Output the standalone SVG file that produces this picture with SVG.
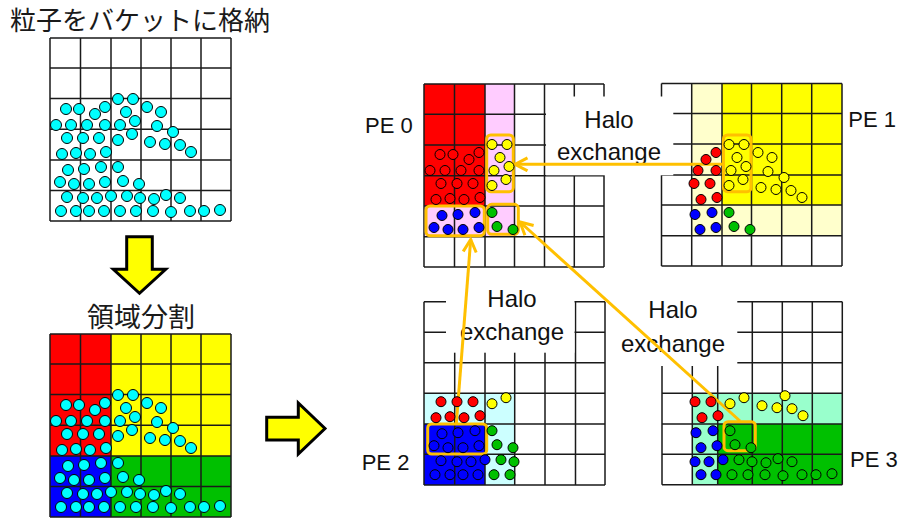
<svg xmlns="http://www.w3.org/2000/svg" xmlns:xlink="http://www.w3.org/1999/xlink" width="899" height="522" viewBox="0 0 899 522">
<style>
.grid{fill:none;stroke:#1a1a1a;stroke-width:1.5}
.p circle{stroke:#000;stroke-width:1}
.c{fill:#00ffff}.r{fill:#ff0000}.y{fill:#ffff00}.b{fill:#0000ff}.g{fill:#00c000}
.pk{fill:#ffccff}.ly{fill:#ffffcc}.lc{fill:#ccffff}.mt{fill:#99ffcc}
.jp{font-family:"Noto Sans CJK JP","Noto Sans CJK SC",sans-serif;fill:#1a1a1a}
.lb{font-family:"Liberation Sans",Arial,sans-serif;font-size:24px;fill:#111}
.pe{font-family:"Liberation Sans",Arial,sans-serif;font-size:22px;fill:#111}
.hb{fill:#fff}
.ob{fill:none;stroke:#ffc000;stroke-width:3}
.con{fill:none;stroke:#ffc000;stroke-width:3;marker-end:url(#ah)}
.blk{fill:#ffff00;stroke:#000;stroke-width:3;stroke-linejoin:miter}
</style>
<defs>
<marker id="ah" viewBox="0 0 16 16" refX="14" refY="8" markerWidth="16" markerHeight="16" markerUnits="userSpaceOnUse" orient="auto">
<path d="M1.5,1.5 L14,8 L1.5,14.5" fill="none" stroke="#ffc000" stroke-width="3"/>
</marker>
<g id="parts" class="p">
<circle cx="118" cy="99" r="5.5"/><circle cx="133" cy="99" r="5.5"/><circle cx="66" cy="109" r="5.5"/><circle cx="79" cy="109" r="5.5"/><circle cx="95" cy="114" r="5.5"/><circle cx="105" cy="107" r="5.5"/><circle cx="126" cy="112" r="5.5"/><circle cx="147" cy="107" r="5.5"/><circle cx="161" cy="112" r="5.5"/>
<circle cx="56" cy="125" r="5.5"/><circle cx="71" cy="125" r="5.5"/><circle cx="87" cy="125" r="5.5"/><circle cx="105" cy="125" r="5.5"/><circle cx="120" cy="125" r="5.5"/><circle cx="135" cy="121" r="5.5"/><circle cx="157" cy="126" r="5.5"/><circle cx="173" cy="132" r="5.5"/><circle cx="132" cy="134" r="5.5"/>
<circle cx="67" cy="138" r="5.5"/><circle cx="83" cy="138" r="5.5"/><circle cx="99" cy="138" r="5.5"/><circle cx="118" cy="140" r="5.5"/><circle cx="150" cy="142" r="5.5"/><circle cx="165" cy="144" r="5.5"/><circle cx="180" cy="145" r="5.5"/><circle cx="191" cy="152" r="5.5"/>
<circle cx="62" cy="154" r="5.5"/><circle cx="76" cy="153" r="5.5"/><circle cx="90" cy="154" r="5.5"/><circle cx="106" cy="152" r="5.5"/>
<circle cx="68" cy="170" r="5.5"/><circle cx="84" cy="169" r="5.5"/><circle cx="101" cy="167" r="5.5"/><circle cx="118" cy="167" r="5.5"/>
<circle cx="60" cy="182" r="5.5"/><circle cx="74" cy="184" r="5.5"/><circle cx="89" cy="184" r="5.5"/><circle cx="105" cy="182" r="5.5"/><circle cx="123" cy="181" r="5.5"/><circle cx="139" cy="184" r="5.5"/>
<circle cx="67" cy="197" r="5.5"/><circle cx="83" cy="198" r="5.5"/><circle cx="97" cy="198" r="5.5"/><circle cx="111" cy="196" r="5.5"/><circle cx="127" cy="196" r="5.5"/><circle cx="140" cy="198" r="5.5"/><circle cx="154" cy="199" r="5.5"/><circle cx="166" cy="195" r="5.5"/><circle cx="180" cy="198" r="5.5"/>
<circle cx="61" cy="211" r="5.5"/><circle cx="76" cy="211" r="5.5"/><circle cx="89" cy="211" r="5.5"/><circle cx="104" cy="211" r="5.5"/><circle cx="120" cy="211" r="5.5"/><circle cx="136" cy="211" r="5.5"/><circle cx="153" cy="211" r="5.5"/><circle cx="171" cy="212" r="5.5"/><circle cx="190" cy="211" r="5.5"/><circle cx="204" cy="211" r="5.5"/><circle cx="220" cy="210" r="5.5"/>
</g>
</defs>
<rect width="899" height="522" fill="#fff"/>

<g id="buckets">
<text class="jp" x="10" y="30" font-size="26">粒子をバケットに格納</text>
<path class="grid" d="M50,38V221M80.5,38V221M111,38V221M141,38V221M171,38V221M201,38V221M231,38V221M50,38H231M50,68H231M50,98.5H231M50,129.3H231M50,160H231M50,190.5H231M50,221H231"/>
<use xlink:href="#parts" class="c"/>
</g>

<g id="arrow-down"><polygon class="blk" points="126.7,236.7 152.3,236.7 152.3,269.3 165.7,269.3 139.5,293.3 113.3,269.3 126.7,269.3"/></g>

<g id="decomposition">
<text class="jp" x="87" y="327" font-size="27">領域分割</text>
<rect class="r" x="50" y="334" width="61" height="122"/>
<rect class="y" x="111" y="334" width="120" height="122"/>
<rect class="b" x="50" y="456" width="61" height="61"/>
<rect class="g" x="111" y="456" width="120" height="61"/>
<path class="grid" d="M50,334V517M80.5,334V517M111,334V517M141,334V517M171,334V517M201,334V517M231,334V517M50,334H231M50,364H231M50,394.5H231M50,425.3H231M50,456H231M50,486.5H231M50,517H231"/>
<use xlink:href="#parts" y="296" class="c"/>
</g>

<g id="arrow-right"><polygon class="blk" points="266.7,417.3 298.3,417.3 298.3,403 325,428.5 298.3,454 298.3,440 266.7,440"/></g>

<g id="pe0">
<rect class="r" x="424" y="84" width="61" height="122"/>
<rect class="pk" x="485" y="84" width="29.5" height="152.7"/>
<rect class="pk" x="424" y="206" width="61" height="30.7"/>
<path class="grid" d="M424,84V267M454.5,84V267M485,84V267M514.5,84V267M544.5,84V267M574.3,84V267M604,84V267M424,84H604M424,114.3H604M424,145H604M424,175.7H604M424,206H604M424,236.7H604M424,267H604"/>
<text class="pe" x="365" y="133.3">PE 0</text>
</g>

<g id="pe1">
<rect class="y" x="722" y="83.5" width="120" height="121.5"/>
<rect class="ly" x="691.7" y="83.5" width="30.3" height="152.2"/>
<rect class="ly" x="722" y="205" width="120" height="30.7"/>
<path class="grid" d="M661.5,83.5V266M691.7,83.5V266M722,83.5V266M751.5,83.5V266M781.7,83.5V266M811.7,83.5V266M842,83.5V266M661.5,83.5H842M661.5,113.5H842M661.5,144H842M661.5,175H842M661.5,205H842M661.5,235.7H842M661.5,266H842"/>
<text class="pe" x="848.3" y="127.3">PE 1</text>
</g>

<g id="pe2">
<rect class="b" x="424" y="424" width="61" height="61"/>
<rect class="lc" x="424" y="393.3" width="90.7" height="30.7"/>
<rect class="lc" x="485" y="424" width="29.7" height="61"/>
<path class="grid" d="M424,301.7V485M454.7,301.7V485M485,301.7V485M514.7,301.7V485M545,301.7V485M575.5,301.7V485M605,301.7V485M424,301.7H605M424,332.3H605M424,362.7H605M424,393.3H605M424,424H605M424,454.3H605M424,485H605"/>
<text class="pe" x="361.7" y="470">PE 2</text>
</g>

<g id="pe3">
<rect class="mt" x="692.3" y="393.3" width="150" height="30.7"/>
<rect class="mt" x="692.3" y="424" width="25.4" height="60.7"/>
<rect class="g" x="717.7" y="424" width="124.6" height="60.7"/>
<path class="grid" d="M662,301.7V484.7M692.3,301.7V484.7M717.7,301.7V484.7M752.3,301.7V484.7M782.3,301.7V484.7M812.3,301.7V484.7M842.3,301.7V484.7M662,301.7H842.3M662,332.3H842.3M662,362.7H842.3M662,393.3H842.3M662,424H842.3M662,454.3H842.3M662,484.7H842.3"/>
<text class="pe" x="850" y="466.7">PE 3</text>
</g>

<g id="halo-labels">
<rect class="hb" x="546" y="96.5" width="127.3" height="78.8"/>
<text class="lb" x="609" y="128.3" text-anchor="middle">Halo</text>
<text class="lb" x="609" y="160" text-anchor="middle">exchange</text>
<rect class="hb" x="446" y="285" width="128.5" height="67.7"/>
<text class="lb" x="512" y="306.5" text-anchor="middle">Halo</text>
<text class="lb" x="512" y="340" text-anchor="middle">exchange</text>
<rect class="hb" x="607" y="285" width="130.3" height="81"/>
<text class="lb" x="673" y="318.3" text-anchor="middle">Halo</text>
<text class="lb" x="673" y="352" text-anchor="middle">exchange</text>
</g>

<g id="connectors">
<line class="con" x1="722" y1="164.3" x2="515" y2="164.3"/>
<line class="con" x1="456.3" y1="424" x2="470.7" y2="239.5"/>
<line class="con" x1="740" y1="421" x2="520" y2="222"/>
</g>

<g id="halo-boxes">
<rect class="ob" x="486.7" y="135" width="26.6" height="56.7" rx="4"/>
<rect class="ob" x="426" y="206" width="58.3" height="29.7" rx="4"/>
<rect class="ob" x="487.7" y="204.3" width="30.6" height="30" rx="4"/>
<rect class="ob" x="723.5" y="135" width="27.5" height="56.7" rx="4"/>
<rect class="ob" x="427.7" y="424" width="59" height="30" rx="4"/>
<rect class="ob" x="724" y="421.7" width="31.3" height="29" rx="4"/>
</g>

<g id="pe0-particles" class="p" transform="translate(374,45.5)">
<g class="r"><circle cx="66" cy="109" r="5"/><circle cx="79" cy="109" r="5"/><circle cx="95" cy="114" r="5"/><circle cx="105" cy="107" r="5"/><circle cx="56" cy="125" r="5"/><circle cx="71" cy="125" r="5"/><circle cx="87" cy="125" r="5"/><circle cx="105" cy="125" r="5"/><circle cx="67" cy="138" r="5"/><circle cx="83" cy="138" r="5"/><circle cx="99" cy="138" r="5"/><circle cx="62" cy="154" r="5"/><circle cx="76" cy="153" r="5"/><circle cx="90" cy="154" r="5"/><circle cx="106" cy="152" r="5"/></g>
<g class="y"><circle cx="118" cy="99" r="5"/><circle cx="133" cy="99" r="5"/><circle cx="126" cy="112" r="5"/><circle cx="120" cy="125" r="5"/><circle cx="135" cy="121" r="5"/><circle cx="132" cy="134" r="5"/><circle cx="118" cy="140" r="5"/></g>
<g class="b"><circle cx="68" cy="170" r="5"/><circle cx="84" cy="169" r="5"/><circle cx="101" cy="167" r="5"/><circle cx="60" cy="182" r="5"/><circle cx="74" cy="184" r="5"/><circle cx="89" cy="184" r="5"/><circle cx="105" cy="182" r="5"/></g>
<g class="g"><circle cx="118" cy="167" r="5"/><circle cx="123" cy="181" r="5"/><circle cx="139" cy="184" r="5"/></g>
</g>

<g id="pe1-particles" class="p" transform="translate(611,45.5)">
<g class="y"><circle cx="118" cy="99" r="5"/><circle cx="133" cy="99" r="5"/><circle cx="126" cy="112" r="5"/><circle cx="147" cy="107" r="5"/><circle cx="161" cy="112" r="5"/><circle cx="120" cy="125" r="5"/><circle cx="135" cy="121" r="5"/><circle cx="157" cy="126" r="5"/><circle cx="173" cy="132" r="5"/><circle cx="132" cy="134" r="5"/><circle cx="118" cy="140" r="5"/><circle cx="150" cy="142" r="5"/><circle cx="165" cy="144" r="5"/><circle cx="180" cy="145" r="5"/><circle cx="191" cy="152" r="5"/></g>
<g class="r"><circle cx="95" cy="114" r="5"/><circle cx="105" cy="107" r="5"/><circle cx="87" cy="125" r="5"/><circle cx="105" cy="125" r="5"/><circle cx="83" cy="138" r="5"/><circle cx="99" cy="138" r="5"/><circle cx="90" cy="154" r="5"/><circle cx="106" cy="152" r="5"/></g>
<g class="b"><circle cx="84" cy="169" r="5"/><circle cx="101" cy="167" r="5"/><circle cx="89" cy="184" r="5"/><circle cx="105" cy="182" r="5"/></g>
<g class="g"><circle cx="118" cy="167" r="5"/><circle cx="123" cy="181" r="5"/><circle cx="139" cy="184" r="5"/></g>
</g>

<g id="pe2-particles" class="p" transform="translate(374,263.7)">
<g class="b"><circle cx="68" cy="170" r="5"/><circle cx="84" cy="169" r="5"/><circle cx="101" cy="167" r="5"/><circle cx="60" cy="182" r="5"/><circle cx="74" cy="184" r="5"/><circle cx="89" cy="184" r="5"/><circle cx="105" cy="182" r="5"/><circle cx="67" cy="197" r="5"/><circle cx="83" cy="198" r="5"/><circle cx="97" cy="198" r="5"/><circle cx="111" cy="196" r="5"/><circle cx="61" cy="211" r="5"/><circle cx="76" cy="211" r="5"/><circle cx="89" cy="211" r="5"/><circle cx="104" cy="211" r="5"/></g>
<g class="r"><circle cx="67" cy="138" r="5"/><circle cx="83" cy="138" r="5"/><circle cx="99" cy="138" r="5"/><circle cx="62" cy="154" r="5"/><circle cx="76" cy="153" r="5"/><circle cx="90" cy="154" r="5"/><circle cx="106" cy="152" r="5"/></g>
<g class="y"><circle cx="132" cy="134" r="5"/><circle cx="118" cy="140" r="5"/></g>
<g class="g"><circle cx="118" cy="167" r="5"/><circle cx="123" cy="181" r="5"/><circle cx="139" cy="184" r="5"/><circle cx="127" cy="196" r="5"/><circle cx="140" cy="198" r="5"/><circle cx="120" cy="211" r="5"/><circle cx="136" cy="211" r="5"/></g>
</g>

<g id="pe3-particles" class="p" transform="translate(612,263.7)">
<g class="r"><circle cx="83" cy="138" r="5"/><circle cx="99" cy="138" r="5"/><circle cx="90" cy="154" r="5"/><circle cx="106" cy="152" r="5"/></g>
<g class="y"><circle cx="173" cy="132" r="5"/><circle cx="132" cy="134" r="5"/><circle cx="118" cy="140" r="5"/><circle cx="150" cy="142" r="5"/><circle cx="165" cy="144" r="5"/><circle cx="180" cy="145" r="5"/><circle cx="191" cy="152" r="5"/></g>
<g class="b"><circle cx="84" cy="169" r="5"/><circle cx="101" cy="167" r="5"/><circle cx="89" cy="184" r="5"/><circle cx="105" cy="182" r="5"/><circle cx="83" cy="198" r="5"/><circle cx="97" cy="198" r="5"/><circle cx="111" cy="196" r="5"/><circle cx="89" cy="211" r="5"/><circle cx="104" cy="211" r="5"/></g>
<g class="g"><circle cx="118" cy="167" r="5"/><circle cx="123" cy="181" r="5"/><circle cx="139" cy="184" r="5"/><circle cx="127" cy="196" r="5"/><circle cx="140" cy="198" r="5"/><circle cx="154" cy="199" r="5"/><circle cx="166" cy="195" r="5"/><circle cx="180" cy="198" r="5"/><circle cx="120" cy="211" r="5"/><circle cx="136" cy="211" r="5"/><circle cx="153" cy="211" r="5"/><circle cx="171" cy="212" r="5"/><circle cx="190" cy="211" r="5"/><circle cx="204" cy="211" r="5"/><circle cx="220" cy="210" r="5"/></g>
</g>
</svg>
